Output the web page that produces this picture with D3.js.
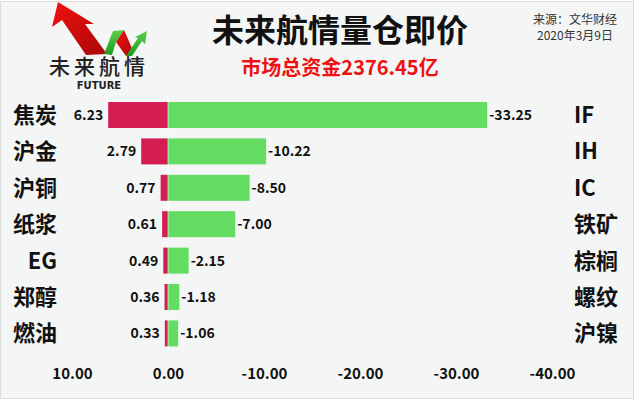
<!DOCTYPE html>
<html><head><meta charset="utf-8">
<script src="https://cdn.jsdelivr.net/npm/d3@7"></script>
<style>html,body{margin:0;padding:0;background:#fff;}svg{display:block;}</style>
</head><body>
<script>
const leftCats = ['焦炭','沪金','沪铜','纸浆','EG','郑醇','燃油'];
const leftVals = [6.23,2.79,0.77,0.61,0.49,0.36,0.33];
const rightCats = ['IF','IH','IC','铁矿','棕榈','螺纹','沪镍'];
const rightVals = [-33.25,-10.22,-8.50,-7.00,-2.15,-1.18,-1.06];
const tickVals = [10,0,-10,-20,-30,-40];
const title = '未来航情量仓即价';
const subtitle = '市场总资金2376.45亿';
const source = ['来源：文华财经','2020年3月9日'];

const W = 640, H = 401;
const FONT = '"Noto Sans CJK SC","Noto Sans",sans-serif';
const svg = d3.select('body').append('svg').attr('width',W).attr('height',H);
svg.append('rect').attr('width',W).attr('height',H).attr('fill','#fff');
svg.append('rect').attr('x',0.5).attr('y',1.5).attr('width',633).attr('height',397)
  .attr('fill','#F4F6F5').attr('stroke','#DCDEDD');

const x = d3.scaleLinear().domain([10,-40]).range([72,552]);
const idx = d3.range(leftCats.length);
const y = d3.scaleBand().domain(idx).range([96.8,351.6]).paddingInner(0.286).paddingOuter(0.143);
const bw = y.bandwidth();

// bars
svg.append('g').selectAll('rect').data(idx).join('rect')
  .attr('x', i => x(leftVals[i])).attr('y', i => y(i))
  .attr('width', i => x(0) - x(leftVals[i])).attr('height', bw)
  .attr('fill','#D41D52');
svg.append('g').selectAll('rect').data(idx).join('rect')
  .attr('x', x(0)).attr('y', i => y(i))
  .attr('width', i => x(rightVals[i]) - x(0)).attr('height', bw)
  .attr('fill','#62DD62');
svg.append('line').attr('x1',x(0)).attr('x2',x(0)).attr('y1',96).attr('y2',352)
  .attr('stroke','#ffffff').attr('stroke-opacity',0.6).attr('stroke-width',1);

// value labels
svg.append('g').selectAll('text').data(idx).join('text')
  .attr('x', i => x(leftVals[i]) - 5).attr('y', i => y(i) + bw/2 + 5)
  .attr('text-anchor','end').attr('font-family',FONT).attr('font-weight','bold')
  .attr('font-size',14).attr('fill','#111').text(i => leftVals[i].toFixed(2));
svg.append('g').selectAll('text').data(idx).join('text')
  .attr('x', i => x(rightVals[i]) + 2).attr('y', i => y(i) + bw/2 + 5)
  .attr('text-anchor','start').attr('font-family',FONT).attr('font-weight','bold')
  .attr('font-size',14).attr('fill','#111').text(i => rightVals[i].toFixed(2));

// category labels
svg.append('g').selectAll('text').data(idx).join('text')
  .attr('x',57).attr('y', i => y(i) + bw/2 + 8)
  .attr('text-anchor','end').attr('font-family',FONT).attr('font-weight','bold')
  .attr('font-size',22).attr('fill','#111').text(i => leftCats[i]);
svg.append('g').selectAll('text').data(idx).join('text')
  .attr('x',574).attr('y', i => y(i) + bw/2 + 8)
  .attr('text-anchor','start').attr('font-family',FONT).attr('font-weight','bold')
  .attr('font-size',22).attr('fill','#111').text(i => rightCats[i]);

// axis
const axis = d3.axisBottom(x).tickValues(tickVals).tickFormat(d => d.toFixed(2)).tickSize(0).tickPadding(0);
const ag = svg.append('g').attr('transform','translate(0,368)').call(axis);
ag.select('.domain').remove();
ag.selectAll('text').attr('font-family',FONT).attr('font-weight','bold').attr('font-size',15).attr('fill','#111');

// titles
svg.append('text').attr('x',340).attr('y',42).attr('text-anchor','middle')
  .attr('font-family',FONT).attr('font-weight','bold').attr('font-size',32).attr('fill','#111').text(title);
svg.append('text').attr('x',340).attr('y',75).attr('text-anchor','middle')
  .attr('font-family',FONT).attr('font-weight','bold').attr('font-size',20).attr('fill','#EE1111').text(subtitle);
svg.append('text').attr('x',575).attr('y',24).attr('text-anchor','middle')
  .attr('font-family',FONT).attr('font-size',12).attr('fill','#333').text(source[0]);
svg.append('text').attr('x',575).attr('y',40).attr('text-anchor','middle')
  .attr('font-family',FONT).attr('font-size',12).attr('fill','#333').text(source[1]);

// logo
const defs = svg.append('defs');
const rg = defs.append('linearGradient').attr('id','rg').attr('x1','0').attr('y1','0').attr('x2','1').attr('y2','1');
rg.append('stop').attr('offset','0').attr('stop-color','#F21010');
rg.append('stop').attr('offset','1').attr('stop-color','#A80808');
const gg = defs.append('linearGradient').attr('id','gg').attr('x1','0').attr('y1','0').attr('x2','0').attr('y2','1');
gg.append('stop').attr('offset','0').attr('stop-color','#5BD04A');
gg.append('stop').attr('offset','1').attr('stop-color','#1E9A1E');
const logo = svg.append('g');
logo.append('path').attr('d','M58,2 L52,27 L62,20 L86,55 L107,54 L85,24 L94,24 Z').attr('fill','url(#rg)');
logo.append('path').attr('d','M104,54 L113,31 L124,30 L116,42 L112,55 Z').attr('fill','url(#gg)');
logo.append('path').attr('d','M116,42 L124,30 L134,53 L126,56 Z').attr('fill','url(#rg)');
logo.append('path').attr('d','M126,56 L138,38 L135,37 L147,31 L145,44 L142,41 L132,56 Z').attr('fill','url(#gg)');
logo.append('text').attr('x',99).attr('y',74).attr('text-anchor','middle')
  .attr('font-family',FONT).attr('font-weight','500').attr('font-size',21).attr('letter-spacing',4).attr('fill','#222').text('未来航情');
logo.append('text').attr('x',99).attr('y',89).attr('text-anchor','middle')
  .attr('font-family','"DejaVu Sans",sans-serif').attr('font-weight','bold').attr('font-size',10).attr('fill','#222').text('FUTURE');
</script>
</body></html>
